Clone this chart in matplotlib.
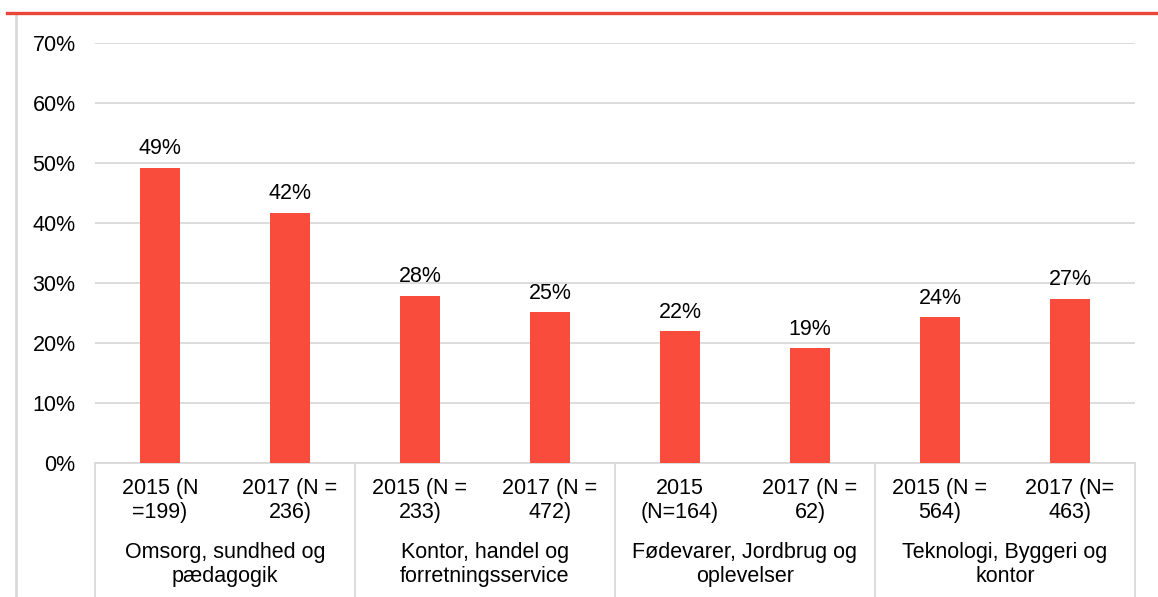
import matplotlib.pyplot as plt
from matplotlib.lines import Line2D

plt.rcParams['font.family'] = ['Liberation Sans', 'DejaVu Sans']

# Andel pr. årgang og uddannelsesretning
categories = ['2015 (N\n=199)', '2017 (N =\n236)',
              '2015 (N =\n233)', '2017 (N =\n472)',
              '2015\n(N=164)', '2017 (N =\n62)',
              '2015 (N =\n564)', '2017 (N=\n463)']
values = [0.492, 0.417, 0.279, 0.251, 0.220, 0.191, 0.243, 0.274]
groups = ['Omsorg, sundhed og\npædagogik',
          'Kontor, handel og\nforretningsservice',
          'Fødevarer, Jordbrug og\noplevelser',
          'Teknologi, Byggeri og\nkontor']
yticks = [0, 0.1, 0.2, 0.3, 0.4, 0.5, 0.6, 0.7]

BAR = '#F94C3C'
GRID = '#D9D9D9'
FS = 15.5

W, H = 1158, 597
fig = plt.figure(figsize=(W / 100, H / 100), dpi=100)
ax = fig.add_axes([95 / W, (H - 463) / H, 1040 / W, 420 / H])

x = list(range(len(values)))
ax.bar(x, values, width=0.31, color=BAR, zorder=3)
for xi, v in zip(x, values):
    ax.annotate(f'{round(v * 100):.0f}%', (xi, v), xytext=(0, 6),
                textcoords='offset points', ha='center', va='bottom', fontsize=FS)

ax.set_xlim(-0.5, len(values) - 0.5)
ax.set_ylim(0, 0.7)
ax.set_yticks(yticks)
ax.set_yticklabels([f'{int(round(t * 100))}%' for t in yticks], fontsize=FS)
ax.tick_params(axis='y', length=0, pad=14)
ax.set_xticks([])
ax.grid(axis='y', color=GRID, linewidth=1.3, zorder=0)
for s in ['top', 'right', 'left']:
    ax.spines[s].set_visible(False)
ax.spines['bottom'].set_color(GRID)
ax.spines['bottom'].set_linewidth(1.3)

xt = ax.get_xaxis_transform()
for xi, lab in zip(x, categories):
    ax.annotate(lab, (xi, 0), xycoords=xt, xytext=(0, -11), textcoords='offset points',
                ha='center', va='top', fontsize=FS, linespacing=1.15)
for gi, g in enumerate(groups):
    ax.annotate(g, (gi * 2 + 0.5, 0), xycoords=xt, xytext=(0, -57),
                textcoords='offset points', ha='center', va='top', fontsize=FS,
                linespacing=1.15)
for b in [-0.5, 1.5, 3.5, 5.5, 7.5]:
    ax.add_line(Line2D([b, b], [0, -0.33], transform=xt, color=GRID,
                       linewidth=1.3, clip_on=False))

# ramme
fig.add_artist(Line2D([16 / W, 16 / W], [0, (H - 14) / H], color=GRID, linewidth=2))
fig.add_artist(Line2D([7 / W, 1], [(H - 13) / H, (H - 13) / H], color='#E8463A', linewidth=2.4))

fig.savefig('out.png', dpi=100)
